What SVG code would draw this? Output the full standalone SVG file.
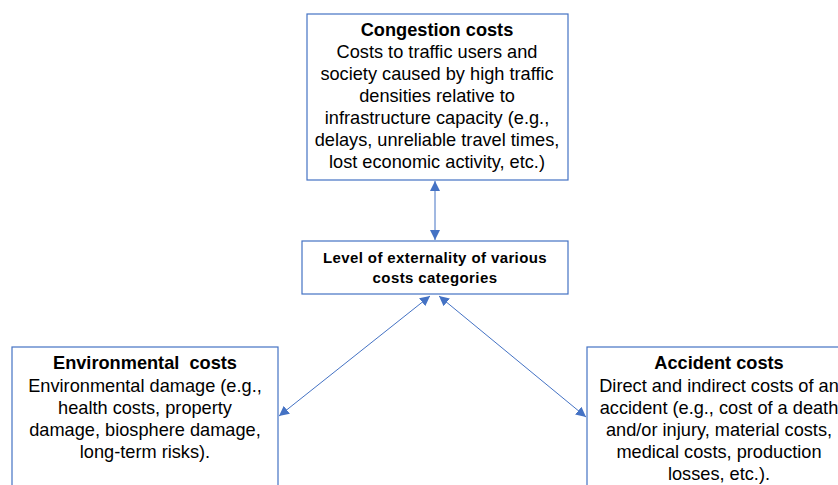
<svg xmlns="http://www.w3.org/2000/svg" width="838" height="485" viewBox="0 0 838 485">
<style>
.box{fill:#fff;stroke:#4472C4;stroke-width:1.2}
.t{font-family:"Liberation Sans",Arial,sans-serif;font-size:18.2px;fill:#000;text-anchor:middle}
.b{font-weight:bold}
.m{font-family:"Liberation Sans",Arial,sans-serif;font-size:15px;font-weight:bold;letter-spacing:0.4px;fill:#000;text-anchor:middle}
.c{stroke:#4472C4;stroke-width:1;fill:none;marker-start:url(#ah);marker-end:url(#ah)}
</style>
<defs>
<marker id="ah" viewBox="0 0 10 10" refX="10" refY="5" markerWidth="10" markerHeight="10" markerUnits="userSpaceOnUse" orient="auto-start-reverse">
<path d="M0,0 L10,5 L0,10 z" fill="#4472C4"/>
</marker>
</defs>
<rect width="838" height="485" fill="#fff"/>
<g id="connectors">
<line class="c" x1="435" y1="181" x2="435" y2="240"/>
<line class="c" x1="430" y1="296" x2="279" y2="416"/>
<line class="c" x1="439" y1="296" x2="586" y2="417"/>
</g>
<g id="congestion">
<rect class="box" x="307" y="14" width="261" height="166"/>
<text class="t b" x="437" y="36">Congestion costs</text>
<text class="t" x="437" y="58">Costs to traffic users and</text>
<text class="t" x="437" y="80">society caused by high traffic</text>
<text class="t" x="437" y="102">densities relative to</text>
<text class="t" x="437" y="124">infrastructure capacity (e.g.,</text>
<text class="t" x="437" y="146">delays, unreliable travel times,</text>
<text class="t" x="437" y="168">lost economic activity, etc.)</text>
</g>
<g id="level">
<rect class="box" x="302" y="241" width="266" height="53"/>
<text class="m" x="435" y="263">Level of externality of various</text>
<text class="m" x="435" y="283">costs categories</text>
</g>
<g id="environmental">
<rect class="box" x="12" y="347" width="266" height="150"/>
<text class="t b" x="145" y="369" xml:space="preserve">Environmental  costs</text>
<text class="t" x="145" y="392">Environmental damage (e.g.,</text>
<text class="t" x="145" y="414">health costs, property</text>
<text class="t" x="145" y="436">damage, biosphere damage,</text>
<text class="t" x="145" y="458">long-term risks).</text>
</g>
<g id="accident">
<rect class="box" x="587" y="347" width="264" height="150"/>
<text class="t b" x="719" y="369">Accident costs</text>
<text class="t" x="719" y="392">Direct and indirect costs of an</text>
<text class="t" x="719" y="414">accident (e.g., cost of a death</text>
<text class="t" x="719" y="436">and/or injury, material costs,</text>
<text class="t" x="719" y="458">medical costs, production</text>
<text class="t" x="719" y="480">losses, etc.).</text>
</g>
</svg>
